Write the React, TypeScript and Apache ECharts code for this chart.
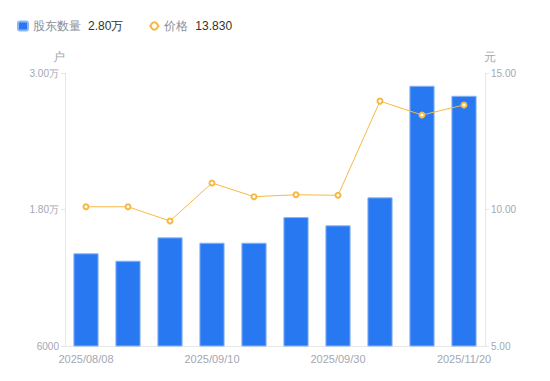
import React, { useEffect, useRef } from "react";
import * as echarts from "echarts";

const categories = [
  "2025/08/08", "2025/08/20", "2025/08/29", "2025/09/10", "2025/09/19",
  "2025/09/26", "2025/09/30", "2025/10/20", "2025/10/31", "2025/11/20",
];
const holders = [14150, 13500, 15550, 15080, 15080, 17340, 16610, 19070, 28880, 28000];
const prices = [10.1, 10.1, 9.58, 10.97, 10.47, 10.54, 10.52, 13.97, 13.46, 13.83];
const leftTicks = { min: 6000, max: 30000, interval: 12000 };
const rightTicks = { min: 5, max: 15, interval: 5 };

const fmtWan = (v: number) => (v >= 10000 ? (v / 10000).toFixed(2) + "万" : String(v));

export default function App() {
  const ref = useRef<HTMLDivElement>(null);
  useEffect(() => {
    document.body.style.margin = "0";
    const chart = echarts.init(ref.current!, undefined, { renderer: "svg" });
    const axisColor = "#a3a7b3";
    const lineColor = "#e6e6e6";
    const lastHolder = holders[holders.length - 1];
    const lastPrice = prices[prices.length - 1];
    chart.setOption({
      animation: false,
      textStyle: { fontFamily: "sans-serif" },
      legend: {
        left: 12,
        top: 15,
        itemWidth: 10,
        itemHeight: 9,
        itemGap: 25,
        selectedMode: false,
        data: [
          { name: "股东数量", icon: "path://M2,0H8A2,2 0 0 1 10,2V7A2,2 0 0 1 8,9H2A2,2 0 0 1 0,7V2A2,2 0 0 1 2,0Z" },
          { name: "价格" },
        ],
        formatter: (name: string) =>
          name === "股东数量"
            ? `{n|${name}}{v|${fmtWan(lastHolder)}}`
            : `{n|${name}}{v|${lastPrice.toFixed(3)}}`,
        textStyle: {
          rich: {
            n: { color: "#8a8e99", fontSize: 12, padding: [0, 7, 0, 0] },
            v: { color: "#333", fontSize: 12 },
          },
        },
      },
      grid: { left: 65, right: 65, top: 73, bottom: 35 },
      xAxis: {
        type: "category",
        data: categories,
        axisLine: { lineStyle: { color: lineColor } },
        axisTick: { show: false },
        axisLabel: { color: axisColor, fontSize: 11, interval: 2, margin: 7 },
      },
      yAxis: [
        {
          type: "value",
          name: "户",
          nameTextStyle: { color: axisColor, fontSize: 12, padding: [0, 12, 0, 0] },
          nameGap: 10,
          min: leftTicks.min,
          max: leftTicks.max,
          interval: leftTicks.interval,
          axisLine: { show: true, lineStyle: { color: lineColor } },
          axisTick: { show: true, length: 4, lineStyle: { color: lineColor } },
          splitLine: { show: false },
          axisLabel: { color: axisColor, fontSize: 10, margin: 6, formatter: fmtWan },
        },
        {
          type: "value",
          name: "元",
          nameTextStyle: { color: axisColor, fontSize: 12, padding: [0, 0, 0, 10] },
          nameGap: 10,
          min: rightTicks.min,
          max: rightTicks.max,
          interval: rightTicks.interval,
          axisLine: { show: true, lineStyle: { color: lineColor } },
          axisTick: { show: true, length: 4, lineStyle: { color: lineColor } },
          splitLine: { show: false },
          axisLabel: { color: axisColor, fontSize: 10, margin: 6, formatter: (v: number) => v.toFixed(2) },
        },
      ],
      series: [
        {
          name: "股东数量",
          type: "bar",
          data: holders,
          barWidth: "60%",
          itemStyle: { color: "#2878f2", borderColor: "#8cb6f7", borderWidth: 1 },
        },
        {
          name: "价格",
          type: "line",
          yAxisIndex: 1,
          data: prices,
          symbol: "emptyCircle",
          symbolSize: 5,
          lineStyle: { color: "#f7b843", width: 1 },
          itemStyle: { color: "#f7b843", borderWidth: 2 },
        },
      ],
    });
    return () => chart.dispose();
  }, []);
  return <div ref={ref} style={{ width: 550, height: 381 }} />;
}
